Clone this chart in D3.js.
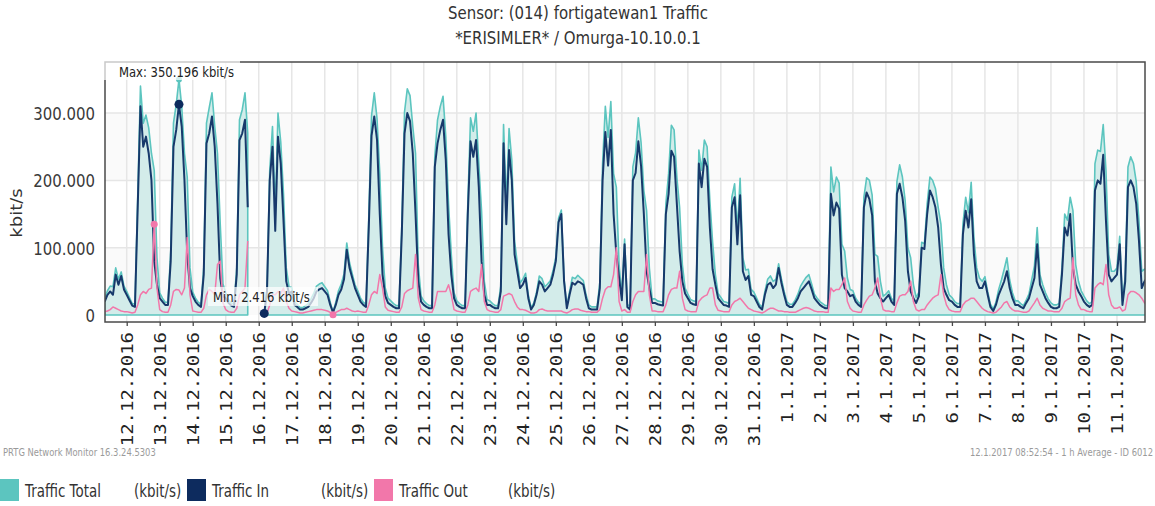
<!DOCTYPE html>
<html>
<head>
<meta charset="utf-8">
<script src="https://cdn.jsdelivr.net/npm/d3@7"></script>
<style>
  body { margin: 0; background: #fff; }
  svg { display: block; }
</style>
</head>
<body>
<svg id="chart" width="1155" height="506"></svg>
<script>
(function (d3) {
  'use strict';

  // values in thousand kbit/s, one sample every 2 hours starting 11.12.2016 08:00
  var startTime = new Date(2016, 11, 11, 8);
  var stepHours = 2;

  var seriesNames = ['Traffic Total', 'Traffic In', 'Traffic Out'];
  var yTicks = [0, 100, 200, 300];

  var trafficIn = [
    20, 30, 35, 30, 60, 45, 58, 38, // 11.12
    30, 22, 14, 12, 160, 310, 250, 265, 240, 200, 80, 45, // 12.12
    25, 20, 15, 15, 80, 250, 275, 313, 280, 200, 90, 40, // 13.12
    28, 20, 15, 12, 60, 255, 270, 295, 250, 165, 55, 28, // 14.12
    25, 18, 14, 12, 60, 260, 270, 290, 160, null, null, null, // 15.12
    null, null, 2.4, 35, 200, 250, 125, 265, 225, 140, 50, 32, // 16.12
    35, 15, 12, 8, 8, 10, 12, 18, 25, 35, 38, 40, // 17.12
    35, 30, 15, 4, 15, 30, 38, 53, 97, 70, 55, 40, // 18.12
    30, 20, 15, 12, 130, 266, 295, 260, 150, 60, 28, 18, // 19.12
    15, 12, 10, 10, 120, 270, 300, 288, 240, 150, 50, 20, // 20.12
    15, 12, 10, 10, 220, 255, 275, 290, 230, 120, 60, 25, // 21.12
    15, 12, 10, 10, 150, 258, 235, 260, 190, 80, 30, 15, // 22.12
    15, 12, 10, 10, 35, 255, 135, 245, 200, 90, 65, 40, // 23.12
    45, 55, 25, 8, 15, 30, 50, 45, 35, 40, 45, 60, // 24.12
    80, 138, 150, 50, 10, 30, 48, 45, 50, 48, 45, 25, // 25.12
    10, 8, 8, 8, 40, 200, 272, 222, 275, 150, 90, 55, // 26.12
    22, 105, 12, 8, 200, 211, 258, 221, 150, 65, 40, 18, // 27.12
    18, 16, 15, 14, 150, 180, 244, 235, 165, 95, 50, 32, // 28.12
    25, 18, 16, 15, 225, 190, 232, 220, 130, 68, 45, 25, // 29.12
    20, 15, 14, 12, 160, 175, 105, 178, 65, 52, 58, 30, // 30.12
    28, 20, 12, 8, 30, 45, 48, 40, 45, 70, 48, 30, // 31.12
    15, 12, 12, 18, 25, 35, 40, 45, 50, 38, 25, 20, // 1.1
    15, 12, 10, 10, 180, 148, 167, 158, 60, 40, 35, 28, // 2.1
    30, 20, 15, 12, 160, 182, 172, 148, 50, 32, 25, 20, // 3.1
    25, 30, 20, 15, 180, 195, 175, 140, 65, 35, 25, 18, // 4.1
    28, 100, 98, 150, 185, 175, 160, 130, 75, 40, 30, 22, // 5.1
    20, 15, 12, 12, 120, 155, 130, 172, 90, 50, 40, 40, // 6.1
    50, 30, 12, 6, 15, 30, 40, 50, 65, 40, 25, 15, // 7.1
    15, 12, 10, 18, 25, 40, 55, 105, 45, 35, 25, 18, // 8.1
    12, 10, 10, 12, 60, 130, 118, 150, 70, 45, 35, 28, // 9.1
    20, 15, 12, 15, 185, 200, 195, 238, 140, 60, 50, 55, // 10.1
    60, 105, 15, 50, 190, 200, 190, 165, 110, 40, 50, 55 // 11.1
  ];

  var trafficOut = [
    5, 6, 8, 12, 10, 8, 6, 5, // 11.12
    5, 4, 3, 4, 15, 30, 35, 32, 38, 40, 135, 40, // 12.12
    8, 5, 4, 4, 15, 35, 38, 37, 30, 40, 115, 30, // 13.12
    6, 5, 4, 4, 10, 30, 38, 35, 30, 75, 80, 18, // 14.12
    8, 5, 4, 4, 10, 30, 35, 40, 110, null, null, null, // 15.12
    null, null, 0.8, 3, 15, 30, 30, 35, 32, 40, 20, 10, // 16.12
    6, 5, 4, 3, 3, 4, 5, 6, 7, 8, 8, 8, // 17.12
    7, 6, 4, 0.3, 4, 6, 8, 8, 10, 8, 6, 5, // 18.12
    6, 5, 4, 4, 15, 30, 35, 32, 60, 40, 12, 7, // 19.12
    6, 5, 4, 4, 12, 32, 36, 38, 40, 90, 25, 8, // 20.12
    6, 5, 4, 4, 15, 35, 35, 35, 35, 45, 30, 8, // 21.12
    6, 5, 4, 4, 15, 35, 38, 40, 35, 75, 20, 8, // 22.12
    6, 5, 4, 4, 8, 28, 30, 32, 30, 20, 12, 8, // 23.12
    8, 7, 5, 3, 3, 4, 8, 9, 7, 6, 6, 6, // 24.12
    6, 6, 6, 4, 3, 5, 8, 9, 9, 7, 6, 5, // 25.12
    5, 4, 4, 4, 8, 25, 38, 42, 42, 60, 100, 20, // 26.12
    6, 8, 4, 4, 20, 30, 35, 35, 35, 90, 30, 6, // 27.12
    6, 5, 5, 5, 15, 30, 38, 40, 40, 65, 25, 8, // 28.12
    6, 5, 5, 5, 20, 25, 28, 30, 40, 40, 15, 7, // 29.12
    6, 5, 5, 5, 15, 20, 22, 25, 20, 15, 10, 8, // 30.12
    6, 5, 4, 3, 5, 8, 10, 10, 8, 6, 6, 5, // 31.12
    5, 4, 4, 4, 6, 8, 10, 11, 10, 8, 6, 5, // 1.1
    5, 5, 4, 4, 40, 35, 38, 38, 45, 55, 20, 10, // 2.1
    6, 5, 4, 4, 15, 22, 28, 30, 40, 55, 25, 8, // 3.1
    6, 6, 5, 5, 18, 28, 30, 30, 35, 50, 20, 8, // 4.1
    6, 8, 8, 15, 20, 25, 28, 30, 60, 30, 15, 8, // 5.1
    6, 5, 5, 5, 15, 20, 22, 25, 25, 20, 15, 10, // 6.1
    7, 5, 4, 3, 4, 8, 12, 18, 20, 12, 8, 6, // 7.1
    6, 5, 4, 4, 6, 12, 18, 25, 15, 10, 8, 6, // 8.1
    6, 5, 5, 5, 10, 20, 23, 25, 85, 30, 15, 8, // 9.1
    8, 6, 5, 5, 40, 45, 48, 45, 75, 30, 15, 10, // 10.1
    10, 12, 6, 8, 30, 35, 35, 33, 30, 25, 18, 15 // 11.1
  ];

  var colors = { total: '#5cc5bf', totalFill: '#d3ecea', inn: '#0d2b5e', innLine: '#17396b', out: '#f277aa' };
  var plot = { left: 105, right: 1145, top: 62, bottom: 322 };
  var sans = 'DejaVu Sans, Verdana, sans-serif';

  var de = d3.formatLocale({ decimal: ',', thousands: '.', grouping: [3], currency: ['', ' €'] });
  var fmtK = function (v) { return de.format(',')(v * 1000); };

  var rows = trafficIn.map(function (v, i) {
    var o = trafficOut[i];
    return {
      t: d3.timeHour.offset(startTime, i * stepHours),
      inV: v,
      outV: o,
      total: (v === null || o === null) ? null : v + o
    };
  });

  var x = d3.scaleTime()
    .domain([new Date(2016, 11, 11, 8, 13), new Date(2017, 0, 11, 20, 23)])
    .range([plot.left, plot.right]);
  var y = d3.scaleLinear()
    .domain([-10.4, 375.9])
    .range([plot.bottom, plot.top]);

  var days = d3.timeDay.range(d3.timeDay.ceil(x.domain()[0]), x.domain()[1]);

  var svg = d3.select('#chart');

  // squeezed text, the original render is narrow
  function squashText(parent, str, px, py, sx, rot) {
    return parent.append('text')
      .attr('transform', 'translate(' + px + ',' + py + ') scale(' + sx + ',1)' + (rot ? ' rotate(' + rot + ')' : ''))
      .text(str);
  }

  // title
  var title = svg.append('g')
    .attr('font-family', sans)
    .attr('font-size', 17)
    .attr('fill', '#333')
    .attr('text-anchor', 'middle');
  squashText(title, 'Sensor: (014) fortigatewan1 Traffic', 578, 18.5, 0.88);
  squashText(title, '*ERISIMLER* / Omurga-10.10.0.1', 578, 44, 0.88);

  svg.append('defs').append('clipPath')
    .attr('id', 'plotClip')
    .append('rect')
    .attr('x', plot.left)
    .attr('y', plot.top)
    .attr('width', plot.right - plot.left)
    .attr('height', plot.bottom - plot.top);

  // alternating bands
  svg.append('g').selectAll('rect')
    .data([[0, 100], [200, 300]])
    .enter()
    .append('rect')
    .attr('x', plot.left)
    .attr('width', plot.right - plot.left)
    .attr('y', function (d) { return y(d[1]); })
    .attr('height', function (d) { return y(d[0]) - y(d[1]); })
    .attr('fill', '#fafafa');

  var grid = svg.append('g')
    .attr('stroke', '#e6e6e6')
    .attr('stroke-width', 1.5);
  grid.selectAll('.vgrid')
    .data(days)
    .enter()
    .append('line')
    .attr('class', 'vgrid')
    .attr('x1', function (d) { return x(d); })
    .attr('x2', function (d) { return x(d); })
    .attr('y1', plot.top)
    .attr('y2', plot.bottom);
  grid.selectAll('.hgrid')
    .data(yTicks.slice(1))
    .enter()
    .append('line')
    .attr('class', 'hgrid')
    .attr('x1', plot.left)
    .attr('x2', plot.right)
    .attr('y1', function (d) { return y(d); })
    .attr('y2', function (d) { return y(d); });

  var g = svg.append('g').attr('clip-path', 'url(#plotClip)');

  var area = d3.area()
    .defined(function (d) { return d.total !== null; })
    .x(function (d) { return x(d.t); })
    .y0(y(0))
    .y1(function (d) { return y(d.total); });

  function lineOf(key) {
    return d3.line()
      .defined(function (d) { return d[key] !== null; })
      .x(function (d) { return x(d.t); })
      .y(function (d) { return y(d[key]); });
  }

  g.append('path')
    .datum(rows)
    .attr('d', area)
    .attr('fill', colors.totalFill)
    .attr('stroke', colors.total)
    .attr('stroke-width', 1.6)
    .attr('stroke-linejoin', 'round');

  g.append('path')
    .datum(rows)
    .attr('d', lineOf('inV'))
    .attr('fill', 'none')
    .attr('stroke', colors.innLine)
    .attr('stroke-width', 2)
    .attr('stroke-linejoin', 'round');

  g.append('path')
    .datum(rows)
    .attr('d', lineOf('outV'))
    .attr('fill', 'none')
    .attr('stroke', colors.out)
    .attr('stroke-width', 1.5)
    .attr('stroke-linejoin', 'round');

  // max / min markers
  function extremes(key) {
    var valid = rows.filter(function (d) { return d[key] !== null; });
    return [d3.greatest(valid, function (d) { return d[key]; }), d3.least(valid, function (d) { return d[key]; })];
  }
  [['total', colors.total, 3], ['inV', colors.inn, 4.5], ['outV', colors.out, 3.5]].forEach(function (s) {
    g.selectAll(null)
      .data(extremes(s[0]))
      .enter()
      .append('circle')
      .attr('cx', function (d) { return x(d.t); })
      .attr('cy', function (d) { return y(d[s[0]]); })
      .attr('r', s[2])
      .attr('fill', s[1]);
  });

  svg.append('rect')
    .attr('x', plot.left)
    .attr('y', plot.top)
    .attr('width', plot.right - plot.left)
    .attr('height', plot.bottom - plot.top)
    .attr('fill', 'none')
    .attr('stroke', '#4a4a4a')
    .attr('stroke-width', 1.5);

  // max / min labels
  var labels = svg.append('g')
    .attr('font-family', sans)
    .attr('font-size', 13.5)
    .attr('fill', '#222');
  labels.append('rect')
    .attr('x', plot.left - 1)
    .attr('y', plot.top - 1)
    .attr('width', 136)
    .attr('height', 19)
    .attr('fill', '#fff')
    .attr('fill-opacity', 0.7);
  squashText(labels, 'Max: 350.196 kbit/s', 119, 77, 0.86);
  labels.append('rect')
    .attr('x', 208)
    .attr('y', 287)
    .attr('width', 110)
    .attr('height', 19)
    .attr('fill', '#fff')
    .attr('fill-opacity', 0.7);
  squashText(labels, 'Min: 2.416 kbit/s', 213, 302, 0.86);

  // y axis
  var yAxis = svg.append('g')
    .attr('transform', 'translate(' + (plot.left - 10) + ',0)')
    .call(d3.axisLeft(y).tickValues(yTicks).tickFormat(fmtK).tickSize(0));
  yAxis.select('.domain').remove();
  yAxis.selectAll('text')
    .attr('font-family', sans)
    .attr('font-size', 18)
    .attr('fill', '#3a3a3a')
    .attr('x', 0)
    .attr('dy', '0.36em')
    .attr('transform', 'scale(0.83,1)');

  var yTitle = svg.append('g')
    .attr('font-family', sans)
    .attr('font-size', 18)
    .attr('fill', '#333')
    .attr('text-anchor', 'middle')
    .attr('dominant-baseline', 'central');
  squashText(yTitle, 'kbit/s', 16, 213, 0.9, -90);

  // x axis
  var xAxis = svg.append('g')
    .attr('transform', 'translate(0,' + plot.bottom + ')')
    .call(d3.axisBottom(x).tickValues(days).tickFormat(d3.timeFormat('%-d.%-m.%Y')).tickSize(4).tickSizeOuter(0));
  xAxis.select('.domain').remove();
  xAxis.selectAll('line').attr('stroke', '#4a4a4a').attr('stroke-width', 1.3);
  xAxis.selectAll('text')
    .attr('font-family', 'DejaVu Sans Mono, monospace')
    .attr('font-size', 19)
    .attr('fill', '#222')
    .attr('text-anchor', 'end')
    .attr('x', 0)
    .attr('y', 0)
    .attr('dy', '0.36em')
    .attr('transform', 'translate(0,10) scale(0.82,1) rotate(-90)');

  // footer
  var foot = svg.append('g')
    .attr('font-family', sans)
    .attr('font-size', 10)
    .attr('fill', '#9a9a9a');
  squashText(foot, 'PRTG Network Monitor 16.3.24.5303', 3, 456, 0.84);
  squashText(foot, '12.1.2017 08:52:54 - 1 h Average - ID 6012', 1153, 456, 0.84)
    .attr('text-anchor', 'end');

  // legend
  var legendX = [0, 187, 374];
  var legendColors = [colors.total, colors.inn, colors.out];
  var legend = svg.append('g')
    .attr('font-family', sans)
    .attr('font-size', 17)
    .attr('fill', '#333');
  seriesNames.forEach(function (name, i) {
    legend.append('rect')
      .attr('x', legendX[i])
      .attr('y', 479)
      .attr('width', 19)
      .attr('height', 22)
      .attr('fill', legendColors[i]);
    squashText(legend, name, legendX[i] + 25, 497, 0.79);
    squashText(legend, '(kbit/s)', legendX[i] + 134, 497, 0.79);
  });
})(d3);
</script>
</body>
</html>
